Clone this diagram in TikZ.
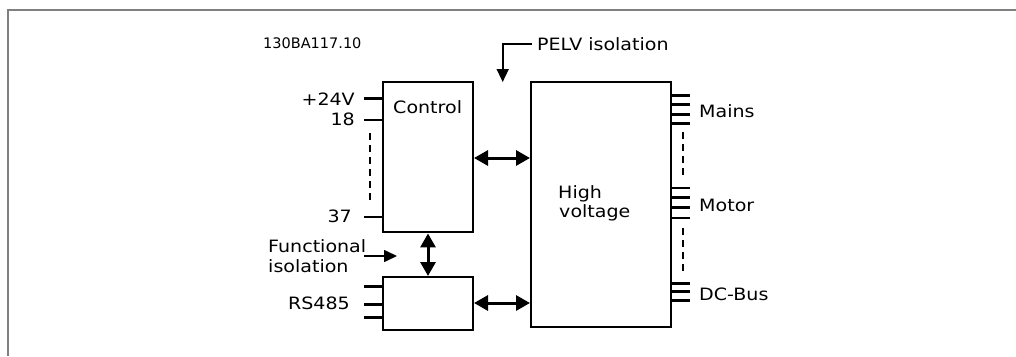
\documentclass[tikz,border=0pt]{standalone}
\usepackage{fontspec}
\setmainfont{DejaVu Sans}
\usetikzlibrary{arrows.meta}
\definecolor{framegray}{RGB}{128,128,128}
\begin{document}
\begin{tikzpicture}[x=1pt,y=-1pt,
  box/.style={draw, line width=2pt, inner sep=0pt},
  lbl/.style={font=\fontsize{17}{20}\selectfont, inner sep=0pt, xscale=1.12},
  lblsmall/.style={font=\fontsize{14.5}{16}\selectfont, inner sep=0pt},
  tick/.style={line width=3pt},
  thinpin/.style={line width=1.8pt},
  dsh/.style={line width=2pt, dash pattern=on 7pt off 5pt},
  dbl/.style={line width=3pt, {Triangle[width=15pt,length=14pt]}-{Triangle[width=15pt,length=14pt]}},
  sgl/.style={line width=1.6pt, -{Triangle[width=12pt,length=13pt]}}]
\useasboundingbox (0,0) rectangle (1016,356);
% frame
\draw[framegray, line width=2pt] (8,356) -- (8,10) -- (1016,10);
% boxes
\node[box, minimum width=90pt, minimum height=150.5pt] (ctrl) at (428,157.2) {};
\node[box, minimum width=90pt, minimum height=53pt] (rs) at (428,303.5) {};
\node[box, minimum width=140pt, minimum height=245.5pt] (hv) at (601,204.7) {};
% texts
\node[lbl, anchor=base west] (tctrl) at (393,113.3) {Control};
\node[lbl, anchor=base west] (thigh) at (558,198) {High};
\node[lbl, anchor=base west] (tvolt) at (559,217.5) {voltage};
\node[lbl, anchor=base east] (t24) at (355,105) {+24V};
\node[lbl, anchor=base east] (t18) at (355,125.5) {18};
\node[lbl, anchor=base east] (t37) at (352,222) {37};
\node[lbl, anchor=base east] (trs) at (350,309.5) {RS485};
\node[lbl, anchor=base west] (tfun) at (268,252) {Functional};
\node[lbl, anchor=base west] (tiso) at (268,272.7) {isolation};
\node[lbl, anchor=base west] (tmains) at (699,117.3) {Mains};
\node[lbl, anchor=base west] (tmotor) at (699,211) {Motor};
\node[lbl, anchor=base west] (tdc) at (699,300.7) {DC-Bus};
\node[lbl, anchor=base west] (pelv) at (537,50) {PELV isolation};
\node[lblsmall, anchor=base west] (tid) at (263,48) {130BA117.10};
% left pins
\draw[tick] (364,98.3) -- (ctrl.west |- 0,98.3);
\draw[line width=2pt] (364,120) -- (ctrl.west |- 0,120);
\draw[dsh] (370,133) -- (370,201.7);
\draw[thinpin] (364,216.7) -- (ctrl.west |- 0,216.7);
\foreach \yy in {286.7,304,317.3}
  \draw[tick] (364,\yy) -- (rs.west |- 0,\yy);
% right pins
\foreach \yy in {95.5,104.5,114,123.3}
  \draw[tick] (hv.east |- 0,\yy) -- (690,\yy);
\draw[line width=2pt] (hv.east |- 0,188) -- (690,188);
\draw[tick] (hv.east |- 0,197.5) -- (690,197.5);
\draw[tick] (hv.east |- 0,207.5) -- (690,207.5);
\draw[line width=2pt] (hv.east |- 0,218) -- (690,218);
\foreach \yy in {283,291.5,300}
  \draw[tick] (hv.east |- 0,\yy) -- (690,\yy);
\draw[dsh] (682.7,132) -- (682.7,177);
\draw[dsh] (682.7,228) -- (682.7,273);
% connectors
\draw[dbl] (ctrl.south) -- (rs.north);
\draw[dbl] (ctrl.east |- 0,158) -- (hv.west |- 0,158);
\draw[dbl] (rs.east |- 0,303) -- (hv.west |- 0,303);
\coordinate (fiA) at (364,256);
\coordinate (fiB) at (397,256);
\draw[sgl] (fiA) -- (fiB);
\coordinate (peA) at (532,44);
\coordinate (peB) at (502.7,82);
\draw[sgl] (peA) -| (peB);
\end{tikzpicture}
\end{document}
